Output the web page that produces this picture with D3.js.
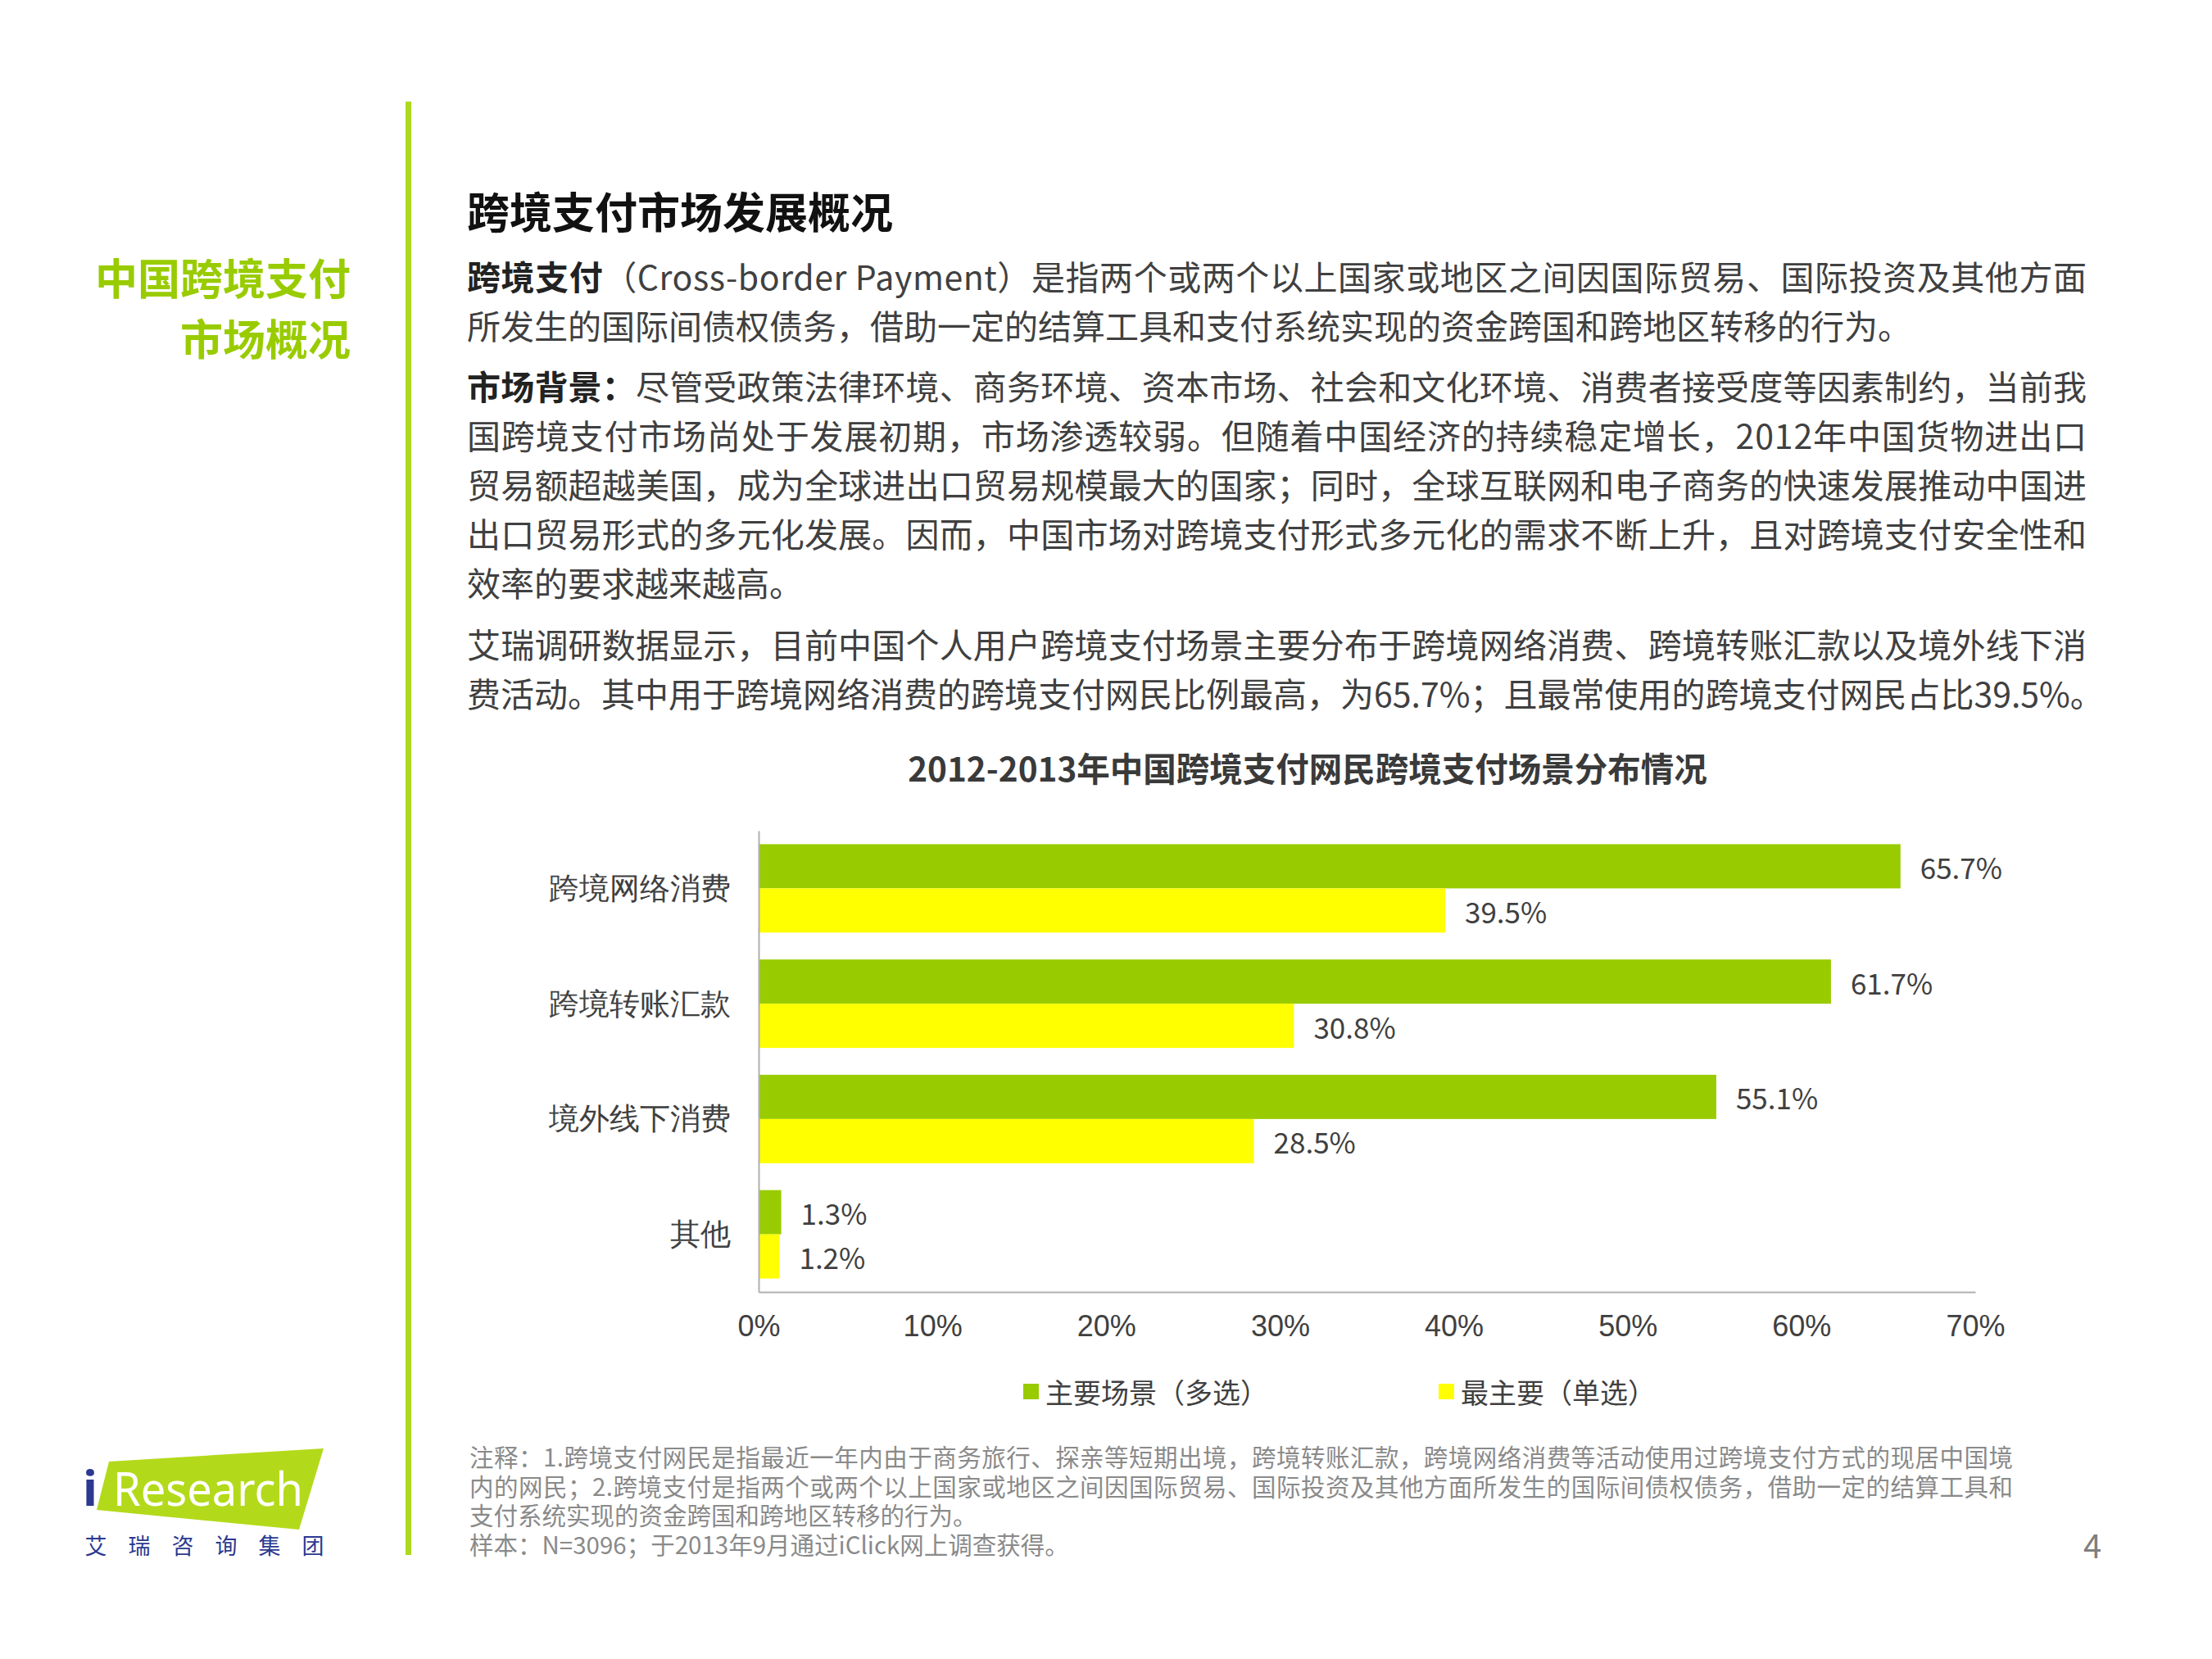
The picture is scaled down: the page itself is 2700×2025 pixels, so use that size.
<!DOCTYPE html>
<html>
<head>
<meta charset="utf-8">
<script src="https://cdn.jsdelivr.net/npm/d3@7"></script>
<style>
  body { margin: 0; background: #fff; }
  svg { display: block; font-family: "Noto Sans CJK SC", "Noto Sans", sans-serif; }
</style>
</head>
<body>
<div class="chart"></div>
<script>
// Chart data
const categories = ['跨境网络消费', '跨境转账汇款', '境外线下消费', '其他'];
const seriesNames = ['主要场景（多选）', '最主要（单选）'];
const mainScene = [65.7, 61.7, 55.1, 1.3];   // 主要场景（多选）
const topScene = [39.5, 30.8, 28.5, 1.2];    // 最主要（单选）
const xTicks = [0, 10, 20, 30, 40, 50, 60, 70];

// Page texts
const sideTitle = ['中国跨境支付', '市场概况'];
const pageTitle = '跨境支付市场发展概况';
const chartTitle = '2012-2013年中国跨境支付网民跨境支付场景分布情况';
const para1 = [
    [['跨境支付', true], ['（Cross-border Payment）是指两个或两个以上国家或地区之间因国际贸易、国际投资及其他方面', false]],
    [['所发生的国际间债权债务，借助一定的结算工具和支付系统实现的资金跨国和跨地区转移的行为。', false]]
];
const para2 = [
    [['市场背景：', true], ['尽管受政策法律环境、商务环境、资本市场、社会和文化环境、消费者接受度等因素制约，当前我', false]],
    [['国跨境支付市场尚处于发展初期，市场渗透较弱。但随着中国经济的持续稳定增长，2012年中国货物进出口', false]],
    [['贸易额超越美国，成为全球进出口贸易规模最大的国家；同时，全球互联网和电子商务的快速发展推动中国进', false]],
    [['出口贸易形式的多元化发展。因而，中国市场对跨境支付形式多元化的需求不断上升，且对跨境支付安全性和', false]],
    [['效率的要求越来越高。', false]]
];
const para3 = [
    [['艾瑞调研数据显示，目前中国个人用户跨境支付场景主要分布于跨境网络消费、跨境转账汇款以及境外线下消', false]],
    [['费活动。其中用于跨境网络消费的跨境支付网民比例最高，为65.7%；且最常使用的跨境支付网民占比39.5%。', false]]
];
const notes = [
    '注释：1.跨境支付网民是指最近一年内由于商务旅行、探亲等短期出境，跨境转账汇款，跨境网络消费等活动使用过跨境支付方式的现居中国境',
    '内的网民；2.跨境支付是指两个或两个以上国家或地区之间因国际贸易、国际投资及其他方面所发生的国际间债权债务，借助一定的结算工具和',
    '支付系统实现的资金跨国和跨地区转移的行为。',
    '样本：N=3096；于2013年9月通过iClick网上调查获得。'
];
const logoChars = ['艾', '瑞', '咨', '询', '集', '团'];

const width = 2700, height = 2025;
const green = '#99cc00', yellow = '#ffff00', textColor = '#404040';

const svg = d3.select('.chart').append('svg')
    .attr('width', width)
    .attr('height', height);

svg.append('rect').attr('width', width).attr('height', height).attr('fill', '#fff');

// Left green rule
svg.append('rect')
    .attr('x', 495).attr('y', 124)
    .attr('width', 7).attr('height', 1774)
    .attr('fill', '#aed81e');

// Side title
sideTitle.forEach((t, i) => {
    svg.append('text')
        .attr('x', 428).attr('y', 337 + i * 74)
        .attr('text-anchor', 'end')
        .attr('dominant-baseline', 'central')
        .attr('font-size', 52).attr('font-weight', 700)
        .attr('fill', green)
        .text(t);
});

// Page title
svg.append('text')
    .attr('x', 570).attr('y', 256)
    .attr('dominant-baseline', 'central')
    .attr('font-size', 52).attr('font-weight', 700)
    .attr('fill', '#111')
    .text(pageTitle);

// Paragraphs, justified lines stretched to the right edge
const textLeft = 570, textRight = 2547, lineStep = 60;
function drawPara(lines, top) {
    lines.forEach((parts, i) => {
        const t = svg.append('text')
            .attr('x', textLeft).attr('y', top + i * lineStep)
            .attr('dominant-baseline', 'central')
            .attr('font-size', 41)
            .attr('fill', textColor);
        parts.forEach(([s, bold]) => {
            t.append('tspan')
                .attr('font-weight', bold ? 700 : 400)
                .attr('fill', bold ? '#222' : textColor)
                .text(s);
        });
        if (i < lines.length - 1) {
            t.attr('textLength', textRight - textLeft).attr('lengthAdjust', 'spacing');
        }
    });
}
drawPara(para1, 336);
drawPara(para2, 470);
drawPara(para3, 785);

// Chart
const x = d3.scaleLinear().domain([0, 70]).range([926, 2411]);
const y = d3.scaleBand().domain(categories).range([1014, 1577])
    .paddingInner(0.233).paddingOuter(0.1165);
const ySub = d3.scaleBand().domain([0, 1]).range([0, y.bandwidth()]);

svg.append('text')
    .attr('x', 1596).attr('y', 936)
    .attr('text-anchor', 'middle')
    .attr('dominant-baseline', 'central')
    .attr('font-size', 40.5).attr('font-weight', 700)
    .attr('fill', '#3a3a3a')
    .text(chartTitle);

const rows = categories.map((c, i) => ({ cat: c, vals: [mainScene[i], topScene[i]] }));
const colors = [green, yellow];

const groups = svg.selectAll('.row')
    .data(rows)
    .join('g')
    .attr('class', 'row')
    .attr('transform', d => `translate(0,${y(d.cat)})`);

groups.selectAll('rect')
    .data(d => d.vals.map((v, k) => ({ v, k })))
    .join('rect')
    .attr('x', x(0))
    .attr('y', d => ySub(d.k))
    .attr('width', d => x(d.v) - x(0))
    .attr('height', ySub.bandwidth())
    .attr('fill', d => colors[d.k]);

groups.selectAll('text.val')
    .data(d => d.vals.map((v, k) => ({ v, k })))
    .join('text')
    .attr('class', 'val')
    .attr('x', d => x(d.v) + 24)
    .attr('y', d => ySub(d.k) + ySub.bandwidth() / 2)
    .attr('dominant-baseline', 'central')
    .attr('font-size', 35)
    .attr('fill', textColor)
    .text(d => d.v.toFixed(1) + '%');

// X axis
const xAxis = svg.append('g')
    .attr('transform', `translate(0,${1577})`)
    .call(d3.axisBottom(x).tickValues(xTicks).tickSize(0).tickFormat(d => d + '%'));
xAxis.select('.domain').attr('stroke', '#b0b0b0').attr('stroke-width', 2);
xAxis.selectAll('text')
    .attr('dy', null).attr('y', 41)
    .attr('dominant-baseline', 'central')
    .attr('font-size', 36)
    .attr('font-family', 'inherit')
    .attr('fill', textColor);

// Y axis
const yAxis = svg.append('g')
    .attr('transform', `translate(${x(0)},0)`)
    .call(d3.axisLeft(y).tickSize(0).tickPadding(34));
yAxis.select('.domain').attr('stroke', '#b0b0b0').attr('stroke-width', 2);
yAxis.selectAll('text')
    .attr('dy', null)
    .attr('dominant-baseline', 'central')
    .attr('font-size', 37)
    .attr('font-family', 'inherit')
    .attr('fill', textColor);

// Legend
const legendX = [1249, 1756];
seriesNames.forEach((name, i) => {
    const g = svg.append('g').attr('transform', `translate(${legendX[i]},1698)`);
    g.append('rect').attr('x', 0).attr('y', -9).attr('width', 19).attr('height', 19).attr('fill', colors[i]);
    g.append('text')
        .attr('x', 27).attr('y', 0)
        .attr('dominant-baseline', 'central')
        .attr('font-size', 34)
        .attr('fill', textColor)
        .text(name);
});

// Notes, one text block with a tspan per line
const noteText = svg.append('text')
    .attr('font-size', 29.5)
    .attr('fill', '#8a8a8a');
notes.forEach((n, i) => {
    const ts = noteText.append('tspan')
        .attr('x', 573).attr('y', 1790 + i * 35.7)
        .text(n);
    if (i < 2) ts.attr('textLength', 2457 - 573).attr('lengthAdjust', 'spacing');
});

// Page number
svg.append('text')
    .attr('x', 2554).attr('y', 1885)
    .attr('text-anchor', 'middle')
    .attr('dominant-baseline', 'central')
    .attr('font-size', 40)
    .attr('fill', '#7f7f7f')
    .text('4');

// iResearch logo
svg.append('polygon')
    .attr('points', '133,1784 395,1768 365,1867 118,1843')
    .attr('fill', '#b3da1a');
svg.append('text')
    .attr('x', 101).attr('y', 1838)
    .attr('font-size', 60).attr('font-weight', 700)
    .attr('font-family', '"Noto Sans", sans-serif')
    .attr('fill', '#2b3990')
    .text('i');
svg.append('text')
    .attr('x', 138).attr('y', 1838)
    .attr('font-size', 56)
    .attr('font-family', '"Noto Sans", sans-serif')
    .attr('fill', '#fff')
    .attr('textLength', 232).attr('lengthAdjust', 'spacingAndGlyphs')
    .text('Research');
logoChars.forEach((c, i) => {
    svg.append('text')
        .attr('x', 117 + i * 53).attr('y', 1885)
        .attr('text-anchor', 'middle')
        .attr('dominant-baseline', 'central')
        .attr('font-size', 27)
        .attr('fill', '#2b3990')
        .text(c);
});
</script>
</body>
</html>
